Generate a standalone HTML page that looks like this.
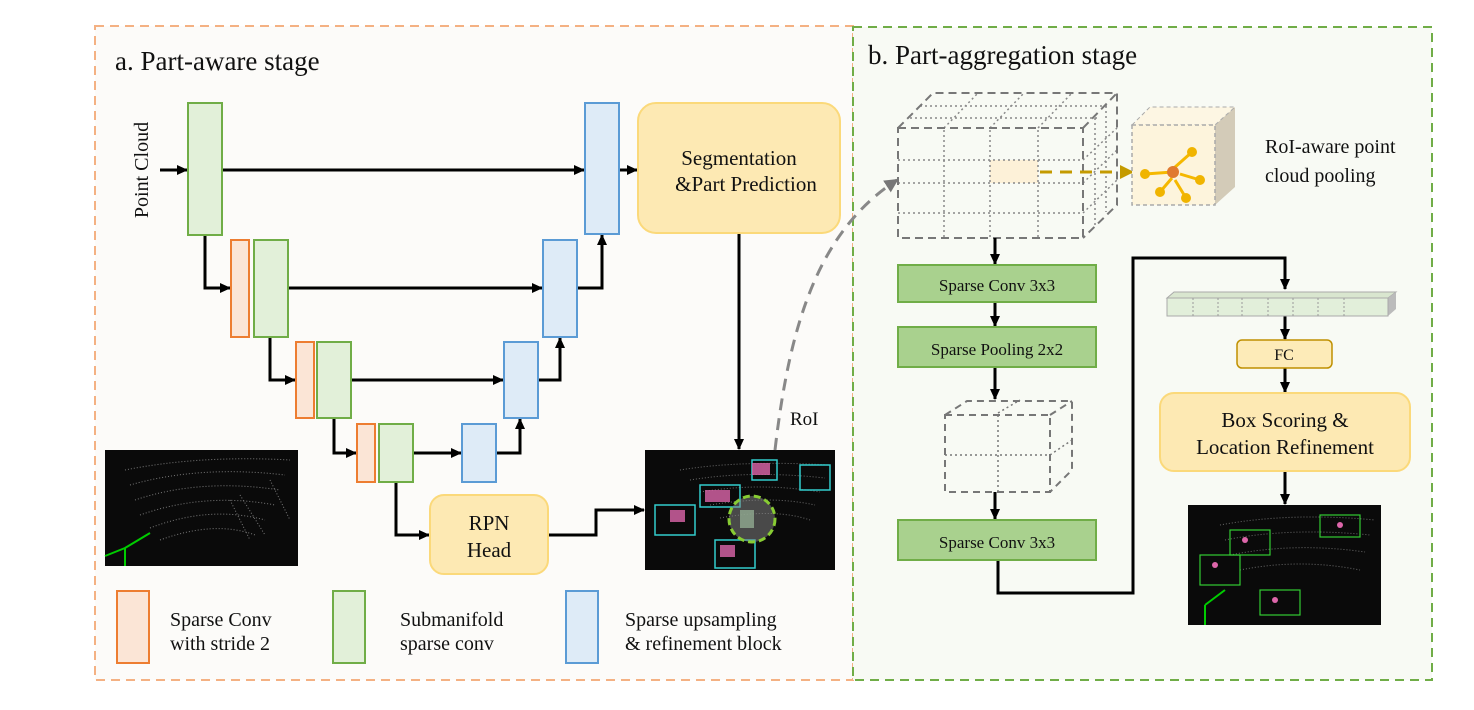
<!DOCTYPE html>
<html><head><meta charset="utf-8"><style>
html,body{margin:0;padding:0;background:#fff;width:1474px;height:710px;overflow:hidden}
svg{display:block}
text{font-family:"Liberation Serif",serif;fill:#111}
</style></head><body>
<svg width="1474" height="710" viewBox="0 0 1474 710" xmlns="http://www.w3.org/2000/svg">
<defs>
<marker id="ah" markerWidth="11" markerHeight="10" refX="10" refY="5" orient="auto" markerUnits="userSpaceOnUse"><path d="M0,0 L11,5 L0,10 z" fill="#000"/></marker>
<marker id="ag" markerWidth="14" markerHeight="14" refX="12" refY="7" orient="auto" markerUnits="userSpaceOnUse"><path d="M0,0 L14,7 L0,14 z" fill="#777"/></marker>
<marker id="ay" markerWidth="14" markerHeight="14" refX="12" refY="7" orient="auto" markerUnits="userSpaceOnUse"><path d="M0,0 L14,7 L0,14 z" fill="#c49a00"/></marker>
</defs>
<rect x="95" y="26" width="758" height="654" fill="#fcfbf9" stroke="#f4b183" stroke-width="2" stroke-dasharray="9,6"/>
<rect x="853" y="27" width="579" height="653" fill="#f8faf4" stroke="#70ad47" stroke-width="2" stroke-dasharray="9,6"/>
<text x="115" y="70" font-size="27">a. Part-aware stage</text>
<text x="868" y="64" font-size="27">b. Part-aggregation stage</text>
<text transform="translate(148,170) rotate(-90)" font-size="20" text-anchor="middle">Point Cloud</text>

<g stroke="#000" stroke-width="3" fill="none" marker-end="url(#ah)">
<path d="M160,170 H187"/>
<path d="M222,170 H584"/>
<path d="M619,170 H637"/>
<path d="M205,235 V288 H230"/>
<path d="M288,288 H542"/>
<path d="M577,288 H602 V235"/>
<path d="M270,337 V380 H295"/>
<path d="M351,380 H503"/>
<path d="M538,380 H560 V338"/>
<path d="M334,418 V453 H356"/>
<path d="M413,453 H461"/>
<path d="M496,453 H520 V419"/>
<path d="M396,482 V535 H429"/>
<path d="M548,535 H596 V510 H644"/>
<path d="M739,233 V449"/>
</g>

<g stroke-width="2">
<rect x="188" y="103" width="34" height="132" fill="#e2f0d9" stroke="#70ad47"/>
<rect x="231" y="240" width="18" height="97" fill="#fbe5d6" stroke="#ed7d31"/>
<rect x="254" y="240" width="34" height="97" fill="#e2f0d9" stroke="#70ad47"/>
<rect x="296" y="342" width="18" height="76" fill="#fbe5d6" stroke="#ed7d31"/>
<rect x="317" y="342" width="34" height="76" fill="#e2f0d9" stroke="#70ad47"/>
<rect x="357" y="424" width="18" height="58" fill="#fbe5d6" stroke="#ed7d31"/>
<rect x="379" y="424" width="34" height="58" fill="#e2f0d9" stroke="#70ad47"/>
<rect x="585" y="103" width="34" height="131" fill="#deebf7" stroke="#5b9bd5"/>
<rect x="543" y="240" width="34" height="97" fill="#deebf7" stroke="#5b9bd5"/>
<rect x="504" y="342" width="34" height="76" fill="#deebf7" stroke="#5b9bd5"/>
<rect x="462" y="424" width="34" height="58" fill="#deebf7" stroke="#5b9bd5"/>
<rect x="638" y="103" width="202" height="130" rx="18" fill="#fde9b3" stroke="#fbd97a"/>
<rect x="430" y="495" width="118" height="79" rx="14" fill="#fde9b3" stroke="#fbd97a"/>
</g>
<text x="739" y="165" font-size="21" text-anchor="middle">Segmentation</text>
<text x="746" y="191" font-size="21" text-anchor="middle">&amp;Part Prediction</text>
<text x="489" y="530" font-size="21" text-anchor="middle">RPN</text>
<text x="489" y="557" font-size="21" text-anchor="middle">Head</text>

<rect x="105" y="450" width="193" height="116" fill="#0a0a0a"/>
<g stroke="#aaa" stroke-width="1" opacity="0.7" fill="none" stroke-dasharray="1,2">
<path d="M125,470 Q200,455 290,460"/><path d="M130,485 Q200,465 285,475"/><path d="M135,500 Q200,478 280,490"/><path d="M140,515 Q205,492 275,505"/><path d="M150,528 Q210,505 265,520"/><path d="M160,540 Q215,520 255,535"/>
<path d="M230,500 L250,540 M240,495 L265,535 M270,480 L290,520"/>
</g>
<path d="M125,548 L125,566 M125,548 L150,533 M125,548 L105,556" stroke="#0c0" stroke-width="2"/>
<rect x="645" y="450" width="190" height="120" fill="#0a0a0a"/>
<g stroke="#aaa" stroke-width="1" opacity="0.6" fill="none" stroke-dasharray="1,2">
<path d="M680,470 Q740,460 830,465"/><path d="M690,480 Q750,470 825,478"/><path d="M700,492 Q760,482 820,492"/><path d="M710,505 Q770,495 815,505"/><path d="M720,518 Q775,508 810,520"/>
</g>
<g stroke="#3cc" stroke-width="1.5" fill="none">
<rect x="655" y="505" width="40" height="30"/><rect x="700" y="485" width="40" height="22"/><rect x="752" y="460" width="25" height="20"/><rect x="800" y="465" width="30" height="25"/><rect x="715" y="540" width="40" height="28"/>
</g>
<g fill="#d6a" opacity="0.8"><rect x="705" y="490" width="25" height="12"/><rect x="670" y="510" width="15" height="12"/><rect x="752" y="463" width="18" height="12"/><rect x="740" y="510" width="14" height="18" fill="#9c9"/><rect x="720" y="545" width="15" height="12"/></g>
<circle cx="752" cy="519" r="23" fill="#888" fill-opacity="0.5" stroke="#8c3" stroke-width="3" stroke-dasharray="7,4"/>
<path d="M775,450 C790,320 820,230 897,180" stroke="#888" stroke-width="3" fill="none" stroke-dasharray="12,8" marker-end="url(#ag)"/>
<text x="790" y="425" font-size="19">RoI</text>

<rect x="117" y="591" width="32" height="72" fill="#fbe5d6" stroke="#ed7d31" stroke-width="2"/>
<text x="170" y="626" font-size="20">Sparse Conv</text><text x="170" y="650" font-size="20">with stride 2</text>
<rect x="333" y="591" width="32" height="72" fill="#e2f0d9" stroke="#70ad47" stroke-width="2"/>
<text x="400" y="626" font-size="20">Submanifold</text><text x="400" y="650" font-size="20">sparse conv</text>
<rect x="566" y="591" width="32" height="72" fill="#deebf7" stroke="#5b9bd5" stroke-width="2"/>
<text x="625" y="626" font-size="20">Sparse upsampling</text><text x="625" y="650" font-size="20">&amp; refinement block</text>

<!-- big cube -->
<rect x="990" y="160" width="48" height="23" fill="#fdf1d8"/>
<g stroke="#888" stroke-width="1.5" fill="none" stroke-dasharray="2,3">
<path d="M944,130 V238 M990,130 V238 M1038,130 V238 M898,160 H1083 M898,183 H1083 M898,213 H1083"/>
<path d="M944,128 L978,93 M990,128 L1024,93 M1038,128 L1072,93 M910,118 H1100 M920,106 H1110"/>
<path d="M1095,118 V225 M1106,106 V212 M1083,160 L1117,128 M1083,183 L1117,150 M1083,213 L1117,180"/>
</g>
<g stroke="#777" stroke-width="2" fill="none" stroke-dasharray="8,5">
<rect x="898" y="128" width="185" height="110"/>
<path d="M898,128 L933,93 H1117 V205 L1083,238 M1083,128 L1117,93"/>
</g>
<path d="M1040,172 H1132" stroke="#c49a00" stroke-width="3" stroke-dasharray="12,8" marker-end="url(#ay)"/>
<path d="M1215,125 L1235,107 V187 L1215,205 Z" fill="#d3cbb8"/>
<path d="M1132,125 L1150,107 H1235 L1215,125 Z" fill="#fdf6e3" stroke="#aaa" stroke-dasharray="4,3"/>
<rect x="1132" y="125" width="83" height="80" fill="#fdf4dc" stroke="#aaa" stroke-width="1.5" stroke-dasharray="4,3"/>
<g stroke="#f5b800" stroke-width="3">
<path d="M1145,174 L1173,172 M1192,152 L1174,168 M1200,180 L1180,174 M1160,192 L1172,178 M1186,198 L1175,180"/>
</g>
<g fill="#f0b400"><circle cx="1145" cy="174" r="5"/><circle cx="1192" cy="152" r="5"/><circle cx="1200" cy="180" r="5"/><circle cx="1160" cy="192" r="5"/><circle cx="1186" cy="198" r="5"/></g>
<circle cx="1173" cy="172" r="6" fill="#e07a30"/>
<text x="1265" y="153" font-size="20">RoI-aware point</text>
<text x="1265" y="182" font-size="20">cloud pooling</text>

<g stroke="#000" stroke-width="3" fill="none" marker-end="url(#ah)">
<path d="M995,238 V264"/><path d="M995,302 V326"/><path d="M995,367 V399"/><path d="M995,492 V519"/>
<path d="M998,560 V593 H1133 V258 H1285 V289"/>
<path d="M1285,315 V339"/><path d="M1285,368 V392"/><path d="M1285,471 V504"/>
</g>
<g stroke="#70ad47" stroke-width="2" fill="#a9d18e">
<rect x="898" y="265" width="198" height="37"/><rect x="898" y="327" width="198" height="40"/><rect x="898" y="520" width="198" height="40"/>
</g>
<text x="997" y="291" font-size="17" text-anchor="middle">Sparse Conv 3x3</text>
<text x="997" y="355" font-size="17" text-anchor="middle">Sparse Pooling 2x2</text>
<text x="997" y="548" font-size="17" text-anchor="middle">Sparse Conv 3x3</text>

<g stroke="#777" stroke-width="1.5" fill="none" stroke-dasharray="2,3">
<path d="M998,415 V492 M945,455 H1050 M998,413 L1020,400 M1050,455 L1072,440"/>
</g>
<g stroke="#777" stroke-width="2" fill="none" stroke-dasharray="7,5">
<rect x="945" y="415" width="105" height="77"/>
<path d="M945,415 L967,401 H1072 V470 L1050,492 M1050,415 L1072,401"/>
</g>

<path d="M1167,298 L1174,292 H1396 L1388,298 Z" fill="#d9e6cf" stroke="#aaa"/>
<path d="M1388,298 L1396,292 V309 L1388,316 Z" fill="#bbb"/>
<rect x="1167" y="298" width="221" height="18" fill="#e2efda" stroke="#aaa"/>
<g stroke="#999" stroke-dasharray="2,2"><path d="M1193,298V316M1218,298V316M1242,298V316M1268,298V316M1293,298V316M1318,298V316M1344,298V316"/></g>
<rect x="1237" y="340" width="95" height="28" rx="5" fill="#fdebb8" stroke="#bf9000" stroke-width="1.5"/>
<text x="1284" y="360" font-size="16" text-anchor="middle">FC</text>
<rect x="1160" y="393" width="250" height="78" rx="14" fill="#fde9b3" stroke="#fbd97a" stroke-width="2"/>
<text x="1285" y="427" font-size="21" text-anchor="middle">Box Scoring &amp;</text>
<text x="1285" y="454" font-size="21" text-anchor="middle">Location Refinement</text>
<rect x="1188" y="505" width="193" height="120" fill="#0a0a0a"/>
<g stroke="#aaa" stroke-width="1" opacity="0.6" fill="none" stroke-dasharray="1,2">
<path d="M1220,525 Q1290,512 1375,520"/><path d="M1225,540 Q1290,527 1370,535"/><path d="M1230,555 Q1295,542 1365,552"/><path d="M1240,570 Q1300,558 1360,570"/>
</g>
<g stroke="#3c3" stroke-width="1.2" fill="none">
<rect x="1200" y="555" width="40" height="30"/><rect x="1260" y="590" width="40" height="25"/><rect x="1320" y="515" width="40" height="22"/><rect x="1230" y="530" width="40" height="25"/>
</g>
<g fill="#d6a"><circle cx="1215" cy="565" r="3"/><circle cx="1245" cy="540" r="3"/><circle cx="1275" cy="600" r="3"/><circle cx="1340" cy="525" r="3"/></g>
<path d="M1205,605 L1205,625 M1205,605 L1225,590" stroke="#0c0" stroke-width="2"/>
</svg>
</body></html>
